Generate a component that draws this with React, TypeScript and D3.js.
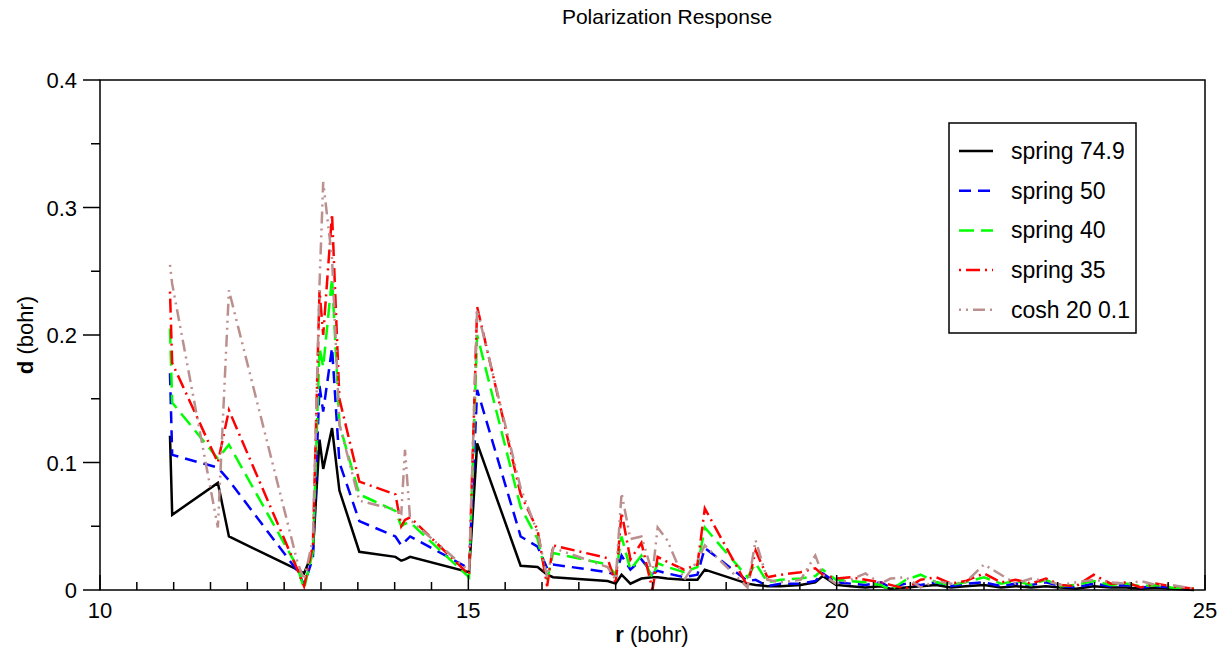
import React from "react";
import * as d3 from "d3";

const title = "Polarization Response";
const rValues = [
  10.95, 10.98, 11.6, 11.75, 12.68, 12.77, 12.89, 12.98, 13.03, 13.15, 13.25, 13.52, 14.01, 14.09, 14.14, 14.21,
  15.01, 15.12, 15.71, 15.94, 16.07, 16.15, 16.89, 17.0, 17.08, 17.2, 17.35, 17.5, 17.57, 17.7, 17.93, 18.11,
  18.21, 18.79, 18.9, 19.06, 19.24, 19.51, 19.71, 19.81, 19.99,
  20.19, 20.39, 20.6, 20.73, 20.94, 21.14, 21.35, 21.55, 21.75, 22.0, 22.23, 22.43, 22.64, 22.84, 23.04, 23.25,
  23.49, 23.72, 23.93, 24.13, 24.33, 24.54, 24.85,
];
const spring749 = [
  0.121, 0.059, 0.084, 0.042, 0.016, 0.013, 0.03, 0.118, 0.095, 0.127, 0.078, 0.03, 0.026, 0.023, 0.024, 0.026,
  0.014, 0.115, 0.019, 0.018, 0.012, 0.01, 0.007, 0.005, 0.012, 0.005, 0.009, 0.01, 0.01, 0.009, 0.008, 0.008,
  0.016, 0.005, 0.004, 0.003, 0.003, 0.004, 0.006, 0.011, 0.004,
  0.003, 0.002, 0.003, 0.001, 0.002, 0.003, 0.004, 0.002, 0.003, 0.004, 0.002, 0.003, 0.002, 0.003, 0.002, 0.001,
  0.003, 0.002, 0.002, 0.001, 0.002, 0.001, 0.0,
];
const spring50 = [
  0.17, 0.106, 0.096, 0.086, 0.015, 0.004, 0.025, 0.16, 0.14, 0.19, 0.1, 0.054, 0.042, 0.035, 0.038, 0.042,
  0.017, 0.157, 0.042, 0.034, 0.017, 0.02, 0.014, 0.012, 0.027, 0.016, 0.024, 0.013, 0.015, 0.013, 0.01, 0.012,
  0.033, 0.007, 0.008, 0.003, 0.005, 0.005, 0.007, 0.013, 0.006,
  0.005, 0.004, 0.006, 0.002, 0.005, 0.004, 0.006, 0.003, 0.005, 0.006, 0.003, 0.005, 0.004, 0.006, 0.003, 0.002,
  0.005, 0.003, 0.004, 0.002, 0.003, 0.002, 0.001,
];
const spring40 = [
  0.205, 0.147, 0.103, 0.114, 0.018, 0.001, 0.03, 0.19, 0.175, 0.245, 0.13, 0.075, 0.062, 0.05, 0.052, 0.053,
  0.01, 0.2, 0.065, 0.04, 0.008, 0.029, 0.02, 0.012, 0.042, 0.016, 0.027, 0.01, 0.021, 0.018, 0.014, 0.018,
  0.049, 0.01, 0.021, 0.006, 0.008, 0.009, 0.011, 0.016, 0.008,
  0.007, 0.006, 0.004, 0.0, 0.008, 0.012, 0.006, 0.004, 0.006, 0.01, 0.005, 0.007, 0.004, 0.008, 0.003, 0.004,
  0.007, 0.004, 0.005, 0.003, 0.004, 0.002, 0.001,
];
const spring35 = [
  0.234, 0.178, 0.1, 0.141, 0.016, 0.003, 0.035, 0.235, 0.2, 0.295, 0.15, 0.085, 0.075, 0.05, 0.055, 0.057,
  0.012, 0.222, 0.075, 0.047, 0.003, 0.035, 0.025, 0.005, 0.061, 0.024, 0.037, 0.0, 0.026, 0.022, 0.016, 0.02,
  0.064, 0.003, 0.031, 0.01, 0.012, 0.014, 0.017, 0.012, 0.009,
  0.01, 0.008, 0.006, 0.004, 0.001, 0.008, 0.01, 0.005, 0.007, 0.013, 0.006, 0.008, 0.005, 0.009, 0.004, 0.003,
  0.012, 0.005, 0.006, 0.002, 0.005, 0.003, 0.001,
];
const cosh20 = [
  0.255, 0.24, 0.049, 0.235, 0.022, 0.008, 0.04, 0.24, 0.32, 0.26, 0.13, 0.07, 0.063, 0.06, 0.11, 0.055,
  0.015, 0.22, 0.08, 0.045, 0.01, 0.033, 0.018, 0.008, 0.076, 0.04, 0.042, 0.013, 0.049, 0.039, 0.008, 0.023,
  0.035, 0.002, 0.039, 0.008, 0.006, 0.008, 0.027, 0.012, 0.005,
  0.008, 0.013, 0.005, 0.009, 0.01, 0.002, 0.007, 0.005, 0.006, 0.02, 0.012, 0.005, 0.009, 0.007, 0.004, 0.006,
  0.008, 0.006, 0.005, 0.007, 0.004, 0.004, 0.001,
];
const seriesNames = ["spring 74.9", "spring 50", "spring 40", "spring 35", "cosh 20 0.1"];
const seriesValues = [spring749, spring50, spring40, spring35, cosh20];
const seriesColors = ["#000000", "#0000ff", "#00ff00", "#ff0000", "#bc8f8f"];
const seriesDash = ["none", "12,7", "15,7", "2,5,14,5", "2,5,2,5,12,5"];

const W = 1226;
const H = 648;
const FONT = "'Liberation Sans', Arial, Helvetica, sans-serif";

export default function App() {
  const x = d3.scaleLinear().domain([10, 25]).range([100, 1205]);
  const y = d3.scaleLinear().domain([0, 0.4]).range([590, 80]);
  const xMajor = [10, 15, 20, 25];
  const xMinor = d3.range(10, 25.001, 0.5).filter((v) => !xMajor.some((m) => Math.abs(m - v) < 1e-6));
  const yMajor = [0, 0.1, 0.2, 0.3, 0.4];
  const yMinor = [0.05, 0.15, 0.25, 0.35];
  const line = d3
    .line<[number, number]>()
    .x((d) => x(d[0]))
    .y((d) => y(d[1]));

  const legendX = 949;
  const legendY = 123;
  const rowY = (i: number) => 151 + i * 39.7;

  return (
    <svg
      width={W}
      height={H}
      style={{ position: "absolute", left: 0, top: 0, background: "#fff" }}
      fontFamily={FONT}
    >
      <rect x={0} y={0} width={W} height={H} fill="#fff" />
      <text x={667} y={24} textAnchor="middle" fontSize={21}>
        {title}
      </text>
      <g>
        {seriesValues.map((vals, i) => (
          <path
            key={i}
            d={line(rValues.map((r, k) => [r, vals[k]] as [number, number])) || ""}
            fill="none"
            stroke={seriesColors[i]}
            strokeWidth={2.5}
            strokeDasharray={seriesDash[i]}
            strokeLinejoin="miter"
          />
        ))}
      </g>
      <rect x={x(10)} y={y(0.4)} width={x(25) - x(10)} height={y(0) - y(0.4)} fill="none" stroke="#000" strokeWidth={1.5} />
      {xMajor.map((v) => (
        <g key={"xm" + v}>
          <line x1={x(v)} x2={x(v)} y1={y(0)} y2={y(0) - 15} stroke="#000" strokeWidth={1.5} />
          <text x={x(v)} y={618} textAnchor="middle" fontSize={22}>
            {v}
          </text>
        </g>
      ))}
      {xMinor.map((v) => (
        <line key={"xn" + v} x1={x(v)} x2={x(v)} y1={y(0)} y2={y(0) - 8} stroke="#000" strokeWidth={1.5} />
      ))}
      {yMajor.map((v) => (
        <g key={"ym" + v}>
          <line x1={x(10) - 17} x2={x(10)} y1={y(v)} y2={y(v)} stroke="#000" strokeWidth={1.5} />
          <text x={77} y={y(v) + 8} textAnchor="end" fontSize={22}>
            {v === 0 ? "0" : d3.format(".1f")(v)}
          </text>
        </g>
      ))}
      {yMinor.map((v) => (
        <line key={"yn" + v} x1={x(10) - 9} x2={x(10)} y1={y(v)} y2={y(v)} stroke="#000" strokeWidth={1.5} />
      ))}
      <text x={652} y={642} textAnchor="middle" fontSize={22}>
        <tspan fontWeight="bold">r</tspan> (bohr)
      </text>
      <text transform="translate(33,335) rotate(-90)" textAnchor="middle" fontSize={22}>
        <tspan fontWeight="bold">d</tspan> (bohr)
      </text>
      <rect x={legendX} y={legendY} width={187} height={210} fill="#fff" stroke="#000" strokeWidth={1.5} />
      {seriesNames.map((name, i) => (
        <g key={name}>
          <line
            x1={959}
            x2={993}
            y1={rowY(i)}
            y2={rowY(i)}
            stroke={seriesColors[i]}
            strokeWidth={2.5}
            strokeDasharray={seriesDash[i]}
          />
          <text x={1011} y={rowY(i) + 8} fontSize={23}>
            {name}
          </text>
        </g>
      ))}
    </svg>
  );
}
